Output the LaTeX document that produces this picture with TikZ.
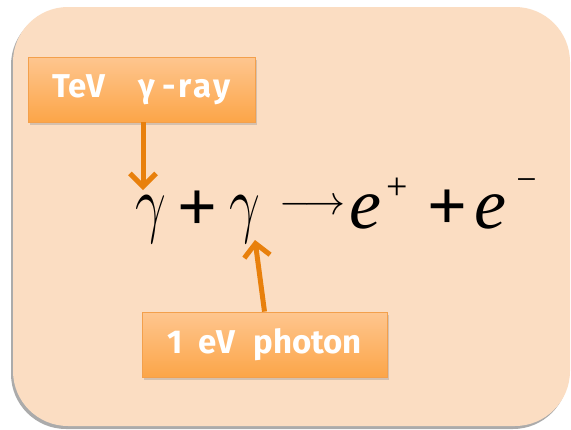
\RequirePackage{fix-cm}
\documentclass[tikz,border=0pt]{standalone}
\usepackage{graphicx}
\usepackage{fontspec}
\setmainfont{Liberation Serif}
\newfontfamily\labfont{Fira Sans}
\usetikzlibrary{arrows.meta,shadows}
\definecolor{panel}{HTML}{FBDDC2}
\definecolor{boxtop}{HTML}{FEC68F}
\definecolor{boxbot}{HTML}{FCA548}
\definecolor{boxline}{HTML}{F3A04C}
\definecolor{arrowc}{HTML}{E8800C}
\begin{document}
\begin{tikzpicture}[x=1pt,y=-1pt,
  panelbox/.style={fill=panel, rounded corners=55pt,
    drop shadow={shadow xshift=-2pt, shadow yshift=-3pt, fill=black!55, opacity=0.6}},
  labelbox/.style={draw=boxline, line width=0.8pt, top color=boxtop, bottom color=boxbot,
    inner sep=0pt, minimum height=65pt,
    drop shadow={shadow xshift=1.5pt, shadow yshift=-2.5pt, opacity=0.3},
    text=white, font=\labfont\bfseries\fontsize{33}{33}\selectfont},
  ptr/.style={draw=arrowc, line width=5pt, -{Straight Barb[length=13pt,width=26pt,line width=5pt]}},
  eqletter/.style={inner sep=0pt, anchor=base west, font=\fontsize{72}{72}\selectfont\itshape},
  eqsym/.style={inner sep=0pt}]
\useasboundingbox (0,0) rectangle (571,429);
\fill[white] (0,0) rectangle (571,429);
\path[panelbox] (13,7) rectangle (570,426);
% labels
\node[labelbox, minimum width=227pt] (lab1) at (141.5,89.5) {TeV\hspace{33pt}γ\hspace{8pt}{\addfontfeature{LetterSpace=8}-ray}};
\node[labelbox, minimum width=245pt] (lab2) at (264.5,344.5) {1\hspace{16pt}eV\hspace{18pt}photon};
% equation
\node[eqletter] (g1) at (135,228) {\fontsize{76}{76}\selectfont\scalebox{0.72}[1]{$\gamma$}};
\node[eqsym, font=\fontsize{70}{70}\selectfont\bfseries] (p1) at (197.5,211) {+};
\node[eqletter] (g2) at (229,228) {\fontsize{76}{76}\selectfont\scalebox{0.72}[1]{$\gamma$}};
\node[eqsym] (arr) at (312.5,207) {\fontsize{41}{41}\selectfont$\longrightarrow$};
\node[eqletter] (e1) at (349,228) {e};
\node[eqsym, font=\fontsize{38}{38}\selectfont] (sp) at (397,189) {+};
\node[eqsym, font=\fontsize{70}{70}\selectfont\bfseries] (p2) at (447,210) {+};
\node[eqletter] (e2) at (474,228) {e};
\node[eqsym, font=\fontsize{36}{36}\selectfont] (sm) at (526.5,185) {−};
% pointers
\coordinate (t1) at (143,190);
\coordinate (t2) at (255,240);
\draw[ptr] (lab1.south -| t1) -- (t1);
\draw[ptr] (lab2.north) -- (t2);
\end{tikzpicture}
\end{document}
